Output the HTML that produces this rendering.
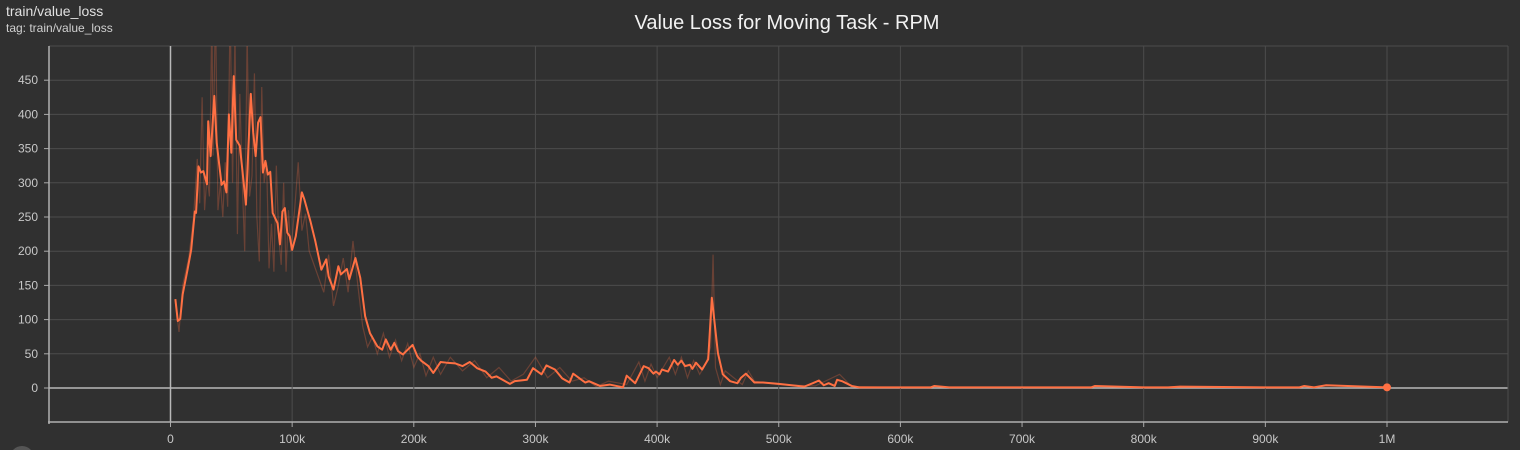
<!DOCTYPE html>
<html><head><meta charset="utf-8">
<style>
html,body{margin:0;padding:0;background:#303030;}
svg{display:block;font-family:"Liberation Sans",sans-serif;}
</style></head>
<body>
<svg id="chart" width="1520" height="450" viewBox="0 0 1520 450">
<rect x="0" y="0" width="1520" height="450" fill="#303030"/>
<text x="6" y="16" fill="#e0e0e0" font-size="14">train/value_loss</text>
<text x="6" y="32" fill="#d0d0d0" font-size="12">tag: train/value_loss</text>
<text x="787" y="29" fill="#f2f2f2" font-size="20" text-anchor="middle">Value Loss for Moving Task - RPM</text>
<defs><clipPath id="clip"><rect x="49" y="46" width="1459" height="376"/></clipPath></defs>
<g id="grid"></g>
<g id="axes"></g>
<g id="series" clip-path="url(#clip)"></g>
<circle cx="22" cy="458" r="12" fill="#555"/>
</svg>
<script>
const xTicks=[0,100,200,300,400,500,600,700,800,900,1000];
const xTickLabels=["0","100k","200k","300k","400k","500k","600k","700k","800k","900k","1M"];
const yTicks=[0,50,100,150,200,250,300,350,400,450];
const stepsK=[4,6,8,10,14,17,20,21,23,25,27,30,31,33,36,38,42,44,46,48,50,52,54,57,59,62,66,68,70,72,74,76,78,80,82,84,88,90,92,94,96,98,100,103,108,110,115,119,124,128,130,134,138,140,145,147,152,156,160,164,170,174,177,181,184,187,191,195,199,203,206,212,216,222,227,234,240,246,252,259,264,268,279,283,293,298,305,309,316,322,328,331,337,341,344,353,361,372,375,382,389,393,397,399,402,404,409,414,417,420,423,427,429,432,437,442,445,450,454,460,466,469,473,480,487,500,521,528,533,537,541,546,548,552,560,566,582,600,625,628,640,700,757,760,800,820,830,900,928,932,940,950,1000];
const smoothed=[130,98,101,137,173,202,258,256,324,315,317,298,390,339,427,358,297,302,286,400,344,456,363,354,320,268,430,373,339,388,396,315,332,312,316,256,241,210,258,263,227,222,202,222,286,276,244,215,173,188,163,144,178,166,174,159,190,161,105,80,61,56,71,56,66,54,49,56,63,46,40,32,22,38,37,36,32,38,29,24,15,17,6,10,12,29,20,33,27,14,8,21,13,8,10,3,5,1,18,7,32,29,21,24,20,27,24,41,34,40,32,34,28,37,27,42,132,51,20,10,7,15,21,8,8,6,2,7,11,4,7,3,12,10,3,1,1,1,1,3,1,1,1,3,1,1,2,1,1,3,1,4,1,0];
const rawK=[4,7,10,15,19,22,24,26,28,30,32,34,35,37,39,41,43,45,47,49,51,53,55,57,59,61,63,65,67,69,71,73,75,77,79,81,83,85,87,89,91,93,95,97,99,102,105,108,111,114,118,122,126,130,134,138,142,146,150,154,158,162,166,170,175,180,185,190,195,200,205,210,216,222,230,240,250,260,270,280,290,300,310,320,330,340,350,360,375,385,390,395,400,410,415,420,425,430,435,440,444,446,448,452,456,470,475,480,500,530,550,560,600];
const raw=[125,82,150,190,250,335,270,425,260,310,280,550,340,560,260,300,250,330,265,560,300,520,225,430,300,200,520,280,310,460,250,185,440,300,330,175,240,170,325,220,180,300,170,260,200,260,330,230,255,200,180,160,140,195,120,150,190,140,215,150,90,60,75,50,80,45,70,40,65,30,50,18,45,20,45,25,40,15,30,10,20,45,15,30,10,15,2,10,5,38,10,35,15,45,20,45,15,40,20,35,60,195,30,5,25,5,25,10,5,3,20,2,1];
const X0=170.5, PXK=1.2165, Y0=388, PXV=34.2/50;
function sx(k){return X0+k*PXK;}
function sy(v){return Y0-v*PXV;}
const NS="http://www.w3.org/2000/svg";
const grid=document.getElementById('grid'), axes=document.getElementById('axes'), series=document.getElementById('series');
function mk(tag,attrs,parent){const e=document.createElementNS(NS,tag);for(const k in attrs)e.setAttribute(k,attrs[k]);parent.appendChild(e);return e;}
yTicks.forEach(v=>{
  const l=mk('line',{x1:49,x2:1508,y1:sy(v),y2:sy(v),stroke:v===0?'#b8b8b8':'#4c4c4c','stroke-width':v===0?1.5:1},grid);
  
  
  const t=mk('text',{x:38,y:sy(v)+4,fill:'#c8c8c8','font-size':12,'text-anchor':'end'},axes);
  t.textContent=String(v);
  
  
  const tk=mk('line',{x1:44,x2:49,y1:sy(v),y2:sy(v),stroke:'#aaa'},axes);
  
  
});
mk('line',{x1:49,x2:1508,y1:46,y2:46,stroke:'#4c4c4c'},grid);
xTicks.forEach((k,i)=>{
  const l=mk('line',{x1:sx(k),x2:sx(k),y1:46,y2:422,stroke:k===0?'#b8b8b8':'#4c4c4c','stroke-width':k===0?1.5:1},grid);
  
  
  const t=mk('text',{x:sx(k),y:443,fill:'#c8c8c8','font-size':12,'text-anchor':'middle'},axes);
  t.textContent=xTickLabels[i];
  
  
  const tk=mk('line',{x1:sx(k),x2:sx(k),y1:422,y2:427,stroke:'#aaa'},axes);
  
  
});
mk('line',{x1:1508,x2:1508,y1:46,y2:422,stroke:'#4c4c4c'},grid);
const ya=mk('line',{x1:49,x2:49,y1:46,y2:424,stroke:'#b0b0b0','stroke-width':1.5},axes);


const xa=mk('line',{x1:48,x2:1508,y1:422,y2:422,stroke:'#b0b0b0','stroke-width':1.5},axes);


const rp=mk('polyline',{points:rawK.map((k,i)=>sx(k)+','+sy(raw[i])).join(' '),fill:'none',stroke:'#ff7043','stroke-opacity':0.28,'stroke-width':1.2},series);


const sp=mk('polyline',{points:stepsK.map((k,i)=>sx(k)+','+sy(smoothed[i])).join(' '),fill:'none',stroke:'#ff7043','stroke-width':2,'stroke-linejoin':'round'},series);


const li=stepsK.length-1;
const dot=mk('circle',{cx:sx(stepsK[li]),cy:sy(smoothed[li]),r:4,fill:'#ff7043'},series);


</script>
</body></html>
